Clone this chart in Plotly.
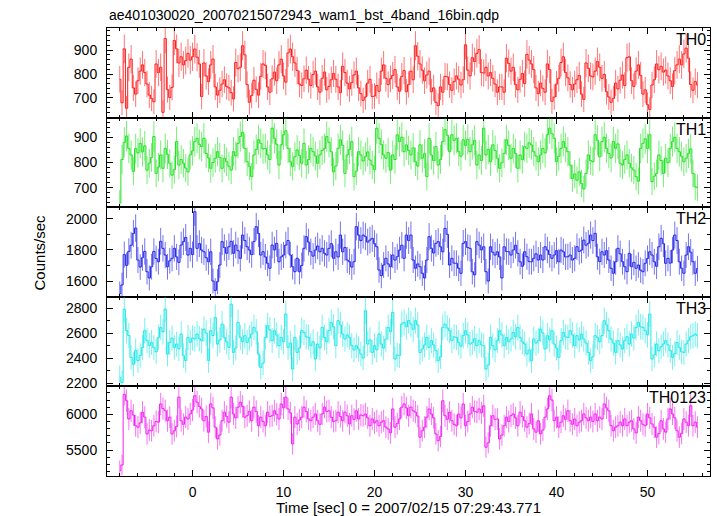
import numpy as np
import plotly.graph_objects as go
from plotly.subplots import make_subplots

# ---------------- data (count rates, counts/sec, 0.25 s bins) ----------------
time_start = -8.0      # centre of first bin [sec]
bin_width = 0.25       # [sec]

th0 = [778,680,905,657,828,862,742,716,772,812,838,806,758,712,698,684,
       842,806,828,640,948,735,702,744,940,905,846,872,838,856,886,858,
       872,904,870,842,706,846,792,768,838,862,746,712,732,758,776,748,
       742,722,696,848,822,828,918,880,756,682,710,774,736,712,790,842,
       836,746,724,780,808,772,838,862,792,766,888,904,872,846,815,758,
       752,780,816,778,752,798,812,746,724,782,808,734,748,776,802,778,
       746,722,832,806,762,738,764,796,812,742,718,690,704,762,778,706,
       708,752,728,812,838,782,756,780,794,818,746,728,790,814,726,756,
       812,776,918,874,842,816,772,796,812,726,742,682,668,746,724,790,
       788,756,732,768,792,778,754,776,922,816,792,868,852,886,902,806,
       804,828,792,806,782,758,724,746,746,724,866,844,812,828,756,734,
       778,802,760,882,858,842,818,742,718,762,740,724,842,818,686,704,
       758,782,848,872,806,784,756,734,758,776,794,716,694,846,824,792,
       788,812,852,828,782,798,726,704,682,698,762,738,774,796,752,868,
       872,772,748,812,838,794,716,734,672,652,754,776,842,818,832,808,
       816,792,772,748,814,838,862,838,884,908,866,756,732,768,754]

th1 = [640,812,880,905,856,830,765,855,838,876,842,866,770,797,820,903,
       757,782,830,777,856,832,797,750,772,883,790,812,797,778,763,830,
       846,883,896,872,863,896,836,818,777,800,817,843,820,777,817,803,
       785,770,843,826,876,903,920,856,803,785,744,830,852,890,876,854,
       856,830,812,936,896,872,790,870,910,926,856,803,785,823,850,828,
       797,876,790,812,856,843,826,797,830,848,856,903,880,843,763,786,
       856,890,868,757,830,852,883,744,766,843,830,806,823,842,810,790,
       772,936,896,872,830,817,840,770,830,812,910,883,900,843,870,848,
       830,858,803,786,870,817,835,744,896,830,808,863,790,812,883,930,
       908,843,910,888,896,843,825,890,868,892,843,870,888,790,830,808,
       936,830,852,803,870,848,817,777,799,836,890,868,817,856,836,777,
       830,812,863,856,878,870,843,826,803,830,856,838,910,936,914,896,
       803,825,856,883,860,843,790,737,755,730,763,717,695,757,830,808,
       803,910,888,823,883,900,856,836,818,883,856,874,797,790,812,830,
       797,779,770,744,726,856,876,894,856,910,724,746,757,830,808,757,
       817,799,856,883,900,856,843,825,803,817,836,854,757,704,700]

th2 = [1520,1575,1770,1700,1790,1830,1905,1940,1735,1690,1750,1790,1660,1620,1692,1790,
       1745,1724,1855,1810,1767,1692,1730,1746,1810,1755,1720,1831,1853,1880,1767,1810,
       1770,2045,1810,1840,1799,1788,1750,1724,1788,1600,1540,1596,1703,1853,1815,1778,
       1820,1855,1778,1831,1795,1746,1895,1860,1820,1799,1770,1853,1949,1905,1767,1788,
       1755,1714,1682,1831,1800,1842,1724,1755,1767,1831,1860,1767,1692,1660,1746,1660,
       1700,1810,1885,1850,1788,1760,1799,1825,1788,1810,1778,1767,1810,1840,1746,1788,
       1755,1895,1788,1815,1735,1724,1690,1724,1949,1895,1860,1895,1885,1850,1863,1874,
       1840,1820,1671,1635,1703,1746,1710,1692,1767,1735,1756,1799,1830,1746,1895,1860,
       1895,1735,1682,1710,1692,1650,1620,1735,1885,1810,1780,1842,1853,1820,1788,1938,
       1900,1703,1746,1715,1714,1682,1650,1842,1853,1815,1810,1660,1640,1853,1831,1800,
       1820,1660,1600,1820,1785,1767,1788,1755,1620,1820,1790,1788,1767,1799,1830,1778,
       1724,1695,1788,1756,1725,1724,1746,1775,1735,1767,1735,1820,1799,1770,1746,1767,
       1795,1724,1799,1788,1755,1756,1767,1735,1746,1820,1790,1799,1863,1830,1842,1895,
       1860,1906,1756,1725,1788,1767,1795,1735,1682,1650,1724,1810,1775,1724,1692,1660,
       1778,1692,1720,1682,1703,1670,1660,1714,1745,1788,1767,1724,1695,1820,1874,1840,
       1714,1746,1715,1799,1895,1860,1724,1682,1650,1767,1820,1785,1724,1650,1680]

th3 = [2245,2205,2790,2620,2580,2405,2350,2459,2380,2420,2485,2619,2539,2500,2525,2485,
       2450,2565,2645,2610,2792,2432,2525,2560,2485,2512,2475,2592,2419,2380,2565,2525,
       2560,2552,2592,2555,2539,2632,2600,2379,2619,2580,2725,2512,2545,2672,2565,2530,
       2485,2832,2445,2480,2685,2565,2530,2579,2525,2560,2592,2645,2610,2432,2325,2360,
       2565,2659,2625,2539,2619,2585,2499,2565,2530,2752,2485,2520,2312,2565,2445,2480,
       2619,2605,2570,2565,2499,2530,2392,2512,2480,2645,2565,2530,2619,2685,2650,2499,
       2699,2665,2592,2552,2585,2565,2499,2465,2499,2472,2432,2400,2779,2512,2545,2445,
       2499,2465,2592,2512,2480,2552,2645,2610,2765,2392,2425,2419,2672,2685,2650,2700,
       2672,2630,2699,2665,2445,2472,2505,2565,2485,2539,2505,2459,2379,2410,2645,2672,
       2640,2619,2539,2570,2565,2525,2495,2579,2619,2585,2512,2525,2555,2499,2539,2505,
       2499,2312,2345,2565,2499,2465,2539,2619,2585,2499,2565,2530,2552,2605,2570,2645,
       2565,2530,2512,2432,2465,2379,2552,2520,2539,2632,2600,2472,2579,2545,2619,2512,
       2480,2405,2539,2605,2570,2565,2619,2585,2499,2579,2545,2592,2552,2520,2445,2379,
       2410,2579,2565,2530,2579,2699,2665,2619,2552,2520,2445,2539,2505,2472,2539,2570,
       2512,2592,2560,2645,2685,2650,2645,2619,2585,2752,2392,2425,2512,2459,2490,2512,
       2539,2505,2459,2405,2435,2525,2485,2450,2445,2512,2539,2570,2579,2592,2579]

th0123 = [5210,5290,6280,6190,5935,6050,5990,5840,5820,5880,6030,5960,5725,5780,5770,5840,
          5900,5890,6145,6080,6050,5910,5960,5725,5770,5830,6240,5910,5860,5960,5935,6005,
          6060,6260,6170,6110,6075,5910,5970,5750,6145,6090,5820,5655,5710,5910,6030,5970,
          5890,6240,6005,5950,6100,6170,6110,5960,5980,6040,5910,6100,6040,5840,5960,5900,
          5840,6030,5970,5980,6050,6000,5935,6145,6090,6240,6075,6020,5585,5960,5865,5920,
          5960,6100,6040,5935,5910,5960,6005,5910,5860,6005,6100,6040,6050,5960,5900,5910,
          6030,5970,5910,6030,5980,5865,5980,5930,6050,5935,5990,5980,6005,5950,5840,5935,
          5880,5910,5840,5890,5910,5820,5795,5740,6075,5820,5870,5935,6100,6145,6090,5980,
          6100,6050,6030,5975,5680,5770,5820,5960,6075,6005,5950,5725,5630,5690,6190,5980,
          5930,6030,5910,5860,5840,6005,5950,6145,5840,5900,6005,6100,6040,6030,6075,6020,
          6120,5540,5600,5840,5980,5930,5935,5655,5710,5840,5960,5900,5980,6005,5950,5840,
          6030,5970,5910,5820,5870,6005,5795,5750,5910,5725,5780,5960,6075,6260,6200,5910,
          5960,5820,5890,5980,5930,6050,5910,5860,5935,5840,5890,5910,6005,5950,5910,5960,
          5900,6005,5910,5960,5935,6145,6090,6050,5840,5770,5820,5840,5890,5840,5935,5840,
          5890,5910,5795,5740,5960,5910,5860,5840,6005,5950,5865,5820,5680,5730,5910,5795,
          5750,5935,6075,6005,5950,5770,5680,5730,5935,5890,5840,6120,5840,5890,5820]

band_names = ["TH0", "TH1", "TH2", "TH3", "TH0123"]
series = [th0, th1, th2, th3, th0123]
y_ranges = [[618, 992], [623, 978], [1499, 2074], [2173, 2890], [5136, 6391]]
y_major = [100, 100, 200, 200, 500]
y_minor = [20, 20, 100, 100, 100]
line_colors = ["#ff1a1a", "#1fe01f", "#2323e6", "#1fe6e6", "#f01ff0"]
err_colors = ["rgba(255,0,0,0.55)", "rgba(0,225,0,0.55)", "rgba(0,0,230,0.55)",
              "rgba(0,230,230,0.55)", "rgba(240,0,240,0.55)"]

title_text = "ae401030020_20070215072943_wam1_bst_4band_16bin.qdp"
x_title = "Time [sec] 0 = 2007/02/15 07:29:43.771"
y_title = "Counts/sec"
x_range = [-9.4, 56.87]

FONT = "Liberation Sans, Arial, Helvetica, sans-serif"

fig = make_subplots(rows=5, cols=1, shared_xaxes=True, vertical_spacing=0)

for k, vals in enumerate(series):
    v = np.array(vals, dtype=float)
    t = time_start + bin_width * np.arange(len(v))
    err = np.sqrt(v / bin_width)
    fig.add_trace(go.Scatter(
        x=t, y=v, mode="lines",
        line=dict(shape="hvh", color=line_colors[k], width=1),
        error_y=dict(type="data", array=err, visible=True,
                     color=err_colors[k], thickness=1, width=0),
        hoverinfo="skip", showlegend=False), row=k + 1, col=1)

    fig.update_yaxes(range=y_ranges[k], tick0=0, dtick=y_major[k],
                     ticks="inside", ticklen=6, tickwidth=1, tickcolor="black",
                     minor=dict(dtick=y_minor[k], tick0=0, ticks="inside",
                                ticklen=3, tickcolor="black", showgrid=False),
                     showline=True, linecolor="black", linewidth=1,
                     mirror="allticks", showgrid=False, zeroline=False,
                     ticklabelstandoff=6, automargin=False,
                     tickfont=dict(family=FONT, size=14, color="black"),
                     row=k + 1, col=1)

fig.update_xaxes(range=x_range, tick0=0, dtick=10,
                 ticks="inside", ticklen=6, tickwidth=1, tickcolor="black",
                 minor=dict(dtick=2, tick0=0, ticks="inside", ticklen=3,
                            tickcolor="black", showgrid=False),
                 showline=True, linecolor="black", linewidth=1,
                 mirror="allticks", showgrid=False, zeroline=False,
                 automargin=False,
                 tickfont=dict(family=FONT, size=14, color="black"))
fig.update_xaxes(showticklabels=True, ticklabelstandoff=3, row=5, col=1,
                 title=dict(text=x_title, standoff=4,
                            font=dict(family=FONT, size=15, color="black")))

annotations = [
    dict(text=title_text, xref="paper", yref="paper", x=0, y=1,
         xanchor="left", yanchor="bottom", yshift=3, showarrow=False,
         font=dict(family=FONT, size=14, color="black")),
    dict(text=y_title, xref="paper", yref="paper", x=-0.112, y=0.5,
         xanchor="center", yanchor="middle", textangle=-90, showarrow=False,
         font=dict(family=FONT, size=15, color="black")),
]
for k, name in enumerate(band_names):
    dom = fig.layout["yaxis" + ("" if k == 0 else str(k + 1))].domain
    annotations.append(dict(text=name, xref="paper", yref="paper", x=1, y=dom[1],
                            xanchor="right", yanchor="top", xshift=-2, yshift=-1,
                            showarrow=False,
                            font=dict(family=FONT, size=16, color="black")))

fig.update_layout(width=717, height=516,
                  margin=dict(l=107, r=7, t=28, b=40),
                  paper_bgcolor="white", plot_bgcolor="white",
                  font=dict(family=FONT, size=14, color="black"),
                  annotations=annotations)

fig.write_html("out.html",
               config={"displayModeBar": False},
               post_script="document.body.style.margin='0';"
                           "document.body.style.overflow='hidden';")
